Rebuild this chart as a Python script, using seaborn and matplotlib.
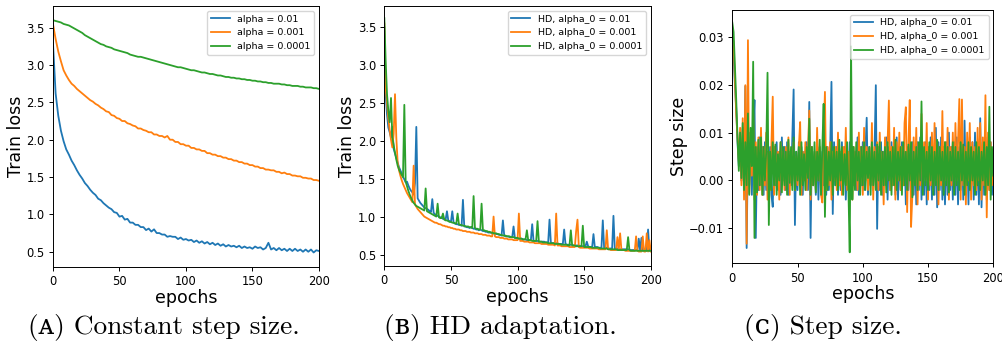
import numpy as np
import matplotlib
matplotlib.use("Agg")
import matplotlib.pyplot as plt
import seaborn as sns

# ---------------- data ----------------
# Panel A: constant step size, train loss sampled every 2 epochs
a_blue = [3.30, 2.62, 2.32, 2.12, 1.98, 1.87, 1.80, 1.72, 1.66, 1.59,
          1.53, 1.48, 1.42, 1.38, 1.33, 1.29, 1.26, 1.21, 1.19, 1.15,
          1.12, 1.09, 1.07, 1.03, 1.02, 0.97, 0.98, 0.93, 0.94, 0.89,
          0.89, 0.86, 0.86, 0.83, 0.83, 0.79, 0.81, 0.77, 0.80, 0.75,
          0.75, 0.73, 0.73, 0.70, 0.71, 0.70, 0.70, 0.67, 0.69, 0.66,
          0.67, 0.65, 0.66, 0.63, 0.65, 0.62, 0.64, 0.61, 0.63, 0.60,
          0.62, 0.59, 0.61, 0.58, 0.60, 0.57, 0.59, 0.57, 0.58, 0.56,
          0.58, 0.55, 0.57, 0.55, 0.56, 0.54, 0.57, 0.55, 0.56, 0.53,
          0.55, 0.62, 0.53, 0.55, 0.52, 0.55, 0.52, 0.54, 0.51, 0.54,
          0.51, 0.54, 0.51, 0.53, 0.50, 0.53, 0.50, 0.53, 0.49, 0.52,
          0.51]
a_orange = [3.55, 3.35, 3.18, 3.05, 2.93, 2.86, 2.80, 2.75, 2.72, 2.68,
            2.65, 2.62, 2.59, 2.56, 2.53, 2.51, 2.48, 2.46, 2.43, 2.41,
            2.38, 2.37, 2.33, 2.32, 2.29, 2.28, 2.25, 2.25, 2.22, 2.21,
            2.19, 2.18, 2.15, 2.15, 2.13, 2.12, 2.10, 2.10, 2.07, 2.07,
            2.05, 2.05, 2.03, 2.05, 2.00, 2.00, 1.97, 1.97, 1.94, 1.94,
            1.92, 1.92, 1.89, 1.89, 1.87, 1.87, 1.85, 1.85, 1.82, 1.82,
            1.80, 1.80, 1.78, 1.78, 1.76, 1.76, 1.74, 1.74, 1.72, 1.72,
            1.70, 1.70, 1.68, 1.68, 1.66, 1.66, 1.64, 1.64, 1.62, 1.62,
            1.60, 1.60, 1.59, 1.59, 1.57, 1.57, 1.55, 1.56, 1.54, 1.54,
            1.52, 1.52, 1.51, 1.51, 1.49, 1.49, 1.48, 1.48, 1.46, 1.46,
            1.45]
a_green = [3.60, 3.59, 3.58, 3.57, 3.55, 3.54, 3.53, 3.51, 3.49, 3.47,
           3.45, 3.43, 3.40, 3.38, 3.36, 3.34, 3.32, 3.30, 3.28, 3.27,
           3.25, 3.24, 3.23, 3.21, 3.20, 3.19, 3.18, 3.17, 3.16, 3.14,
           3.13, 3.12, 3.11, 3.11, 3.10, 3.09, 3.08, 3.07, 3.06, 3.05,
           3.04, 3.03, 3.02, 3.01, 3.00, 2.99, 2.98, 2.97, 2.97, 2.96,
           2.95, 2.94, 2.93, 2.93, 2.92, 2.91, 2.90, 2.90, 2.89, 2.88,
           2.88, 2.87, 2.86, 2.86, 2.85, 2.84, 2.84, 2.83, 2.83, 2.82,
           2.82, 2.81, 2.81, 2.80, 2.80, 2.79, 2.79, 2.78, 2.78, 2.77,
           2.77, 2.76, 2.76, 2.75, 2.75, 2.75, 2.74, 2.74, 2.73, 2.73,
           2.72, 2.72, 2.72, 2.71, 2.71, 2.70, 2.70, 2.70, 2.69, 2.69,
           2.68]
a_labels = ["alpha = 0.01", "alpha = 0.001", "alpha = 0.0001"]

# Panel B: HD adaptation, train loss per epoch
b_blue = [3.50, 2.62, 2.35, 2.18, 2.12, 2.05, 2.19, 1.90, 1.84, 1.78,
          1.72, 1.66, 1.62, 1.58, 1.53, 1.50, 1.46, 1.47, 1.42, 1.38,
          1.35, 1.33, 1.30, 1.45, 2.19, 1.25, 1.22, 1.19, 1.17, 1.15,
          1.13, 1.12, 1.11, 1.10, 1.08, 1.07, 1.24, 1.06, 1.04, 1.03,
          1.02, 1.01, 1.00, 1.00, 0.98, 0.98, 0.97, 1.08, 0.96, 0.95,
          0.94, 1.08, 0.93, 0.92, 0.91, 0.91, 0.90, 0.90, 0.89, 1.23,
          0.88, 0.88, 0.87, 0.87, 0.86, 0.87, 0.86, 0.85, 0.85, 0.84,
          0.84, 0.83, 0.84, 0.83, 0.82, 0.82, 0.81, 0.81, 0.80, 0.80,
          0.80, 0.79, 0.79, 0.78, 0.78, 0.78, 0.77, 0.77, 0.76, 0.96,
          0.76, 0.75, 0.75, 0.75, 0.74, 0.74, 0.74, 0.88, 0.73, 0.73,
          0.72, 0.72, 0.72, 0.72, 0.71, 0.71, 0.71, 0.70, 0.70, 0.70,
          0.70, 0.91, 0.69, 0.69, 0.69, 0.69, 0.68, 0.68, 0.68, 0.68,
          0.68, 0.67, 0.67, 0.67, 0.97, 0.67, 0.66, 0.66, 0.66, 0.66,
          0.66, 0.65, 0.65, 0.65, 0.65, 0.84, 0.65, 0.64, 0.64, 0.64,
          0.64, 0.64, 0.63, 0.63, 0.63, 0.63, 0.63, 0.62, 0.62, 0.62,
          0.62, 0.62, 0.68, 0.62, 0.61, 0.61, 0.61, 0.78, 0.61, 0.61,
          0.61, 0.60, 0.60, 0.60, 0.96, 0.60, 0.60, 0.60, 0.59, 0.59,
          0.59, 0.59, 1.02, 0.59, 0.59, 0.59, 0.58, 0.58, 0.58, 0.58,
          0.58, 0.58, 0.58, 0.58, 0.57, 0.57, 0.57, 0.57, 0.57, 0.57,
          0.57, 0.72, 0.57, 0.73, 0.56, 0.56, 0.56, 0.56, 0.84, 0.56,
          0.57]
b_orange = [3.55, 2.70, 2.50, 2.30, 2.15, 2.02, 1.92, 2.10, 2.62, 2.04,
            1.72, 1.62, 1.55, 1.49, 1.44, 1.40, 1.36, 1.32, 1.29, 1.26,
            1.23, 1.20, 1.68, 1.17, 1.14, 1.11, 1.09, 1.07, 1.05, 1.03,
            1.01, 1.00, 0.99, 0.98, 0.97, 0.96, 0.95, 0.94, 0.93, 0.93,
            0.92, 0.91, 0.91, 0.90, 0.89, 0.89, 0.88, 0.88, 0.87, 0.87,
            0.86, 0.86, 0.85, 0.85, 0.84, 0.84, 0.84, 0.83, 0.83, 0.82,
            0.82, 0.82, 0.81, 0.81, 0.81, 0.80, 0.80, 0.80, 0.79, 0.79,
            0.79, 0.78, 0.78, 0.78, 0.77, 0.77, 0.77, 0.76, 0.76, 0.76,
            0.75, 0.75, 1.01, 0.75, 0.74, 0.74, 0.74, 0.73, 0.73, 0.73,
            0.72, 0.72, 0.72, 0.71, 0.71, 0.71, 0.71, 0.70, 0.70, 0.70,
            0.70, 1.05, 0.69, 0.69, 0.69, 0.68, 0.68, 0.68, 0.68, 0.67,
            0.67, 0.67, 0.67, 0.66, 0.66, 0.66, 0.66, 0.66, 0.65, 0.65,
            0.65, 0.65, 0.65, 0.64, 0.64, 0.64, 0.64, 0.64, 0.63, 1.05,
            0.63, 0.63, 0.63, 0.62, 0.62, 0.62, 0.62, 0.62, 0.62, 0.61,
            0.61, 0.61, 0.61, 0.61, 0.82, 0.97, 0.61, 0.60, 0.60, 0.60,
            0.60, 0.60, 0.60, 0.60, 0.59, 0.59, 0.59, 0.59, 0.59, 0.59,
            0.59, 0.58, 0.58, 0.58, 0.58, 0.58, 0.58, 0.83, 0.58, 0.58,
            0.57, 0.57, 0.57, 0.57, 0.57, 0.74, 0.57, 0.79, 0.57, 0.57,
            0.57, 0.56, 0.56, 0.56, 0.56, 0.56, 0.56, 0.56, 0.56, 0.75,
            0.56, 0.55, 0.55, 0.55, 0.75, 0.55, 0.55, 0.79, 0.55, 0.70,
            0.55]
b_green = [3.62, 3.05, 2.62, 2.40, 2.25, 2.57, 2.05, 1.95, 1.85, 1.76,
           1.68, 1.63, 1.59, 1.56, 1.53, 2.48, 1.47, 1.41, 1.35, 1.30,
           1.26, 1.22, 1.19, 1.17, 1.15, 1.14, 1.13, 1.12, 1.11, 1.10,
           1.09, 1.38, 1.08, 1.07, 1.06, 1.05, 1.04, 1.03, 1.02, 1.01,
           1.18, 1.00, 0.99, 0.99, 1.05, 0.97, 0.96, 0.96, 0.95, 0.94,
           0.94, 0.93, 0.93, 0.92, 0.92, 1.05, 0.91, 0.90, 0.90, 0.89,
           0.89, 0.88, 0.88, 0.88, 0.87, 0.87, 0.86, 1.28, 0.86, 0.85,
           0.85, 0.84, 0.84, 1.18, 0.83, 0.83, 0.82, 0.82, 0.81, 0.81,
           0.80, 0.80, 0.79, 0.79, 0.79, 0.78, 0.78, 0.77, 0.77, 0.76,
           0.76, 0.76, 0.75, 0.75, 0.75, 0.74, 0.74, 0.74, 0.73, 0.73,
           0.73, 0.72, 0.72, 0.72, 0.71, 0.71, 0.71, 0.83, 0.70, 0.70,
           0.70, 0.69, 0.69, 0.69, 0.69, 0.95, 0.68, 0.68, 0.68, 0.67,
           0.67, 0.67, 0.67, 0.66, 0.66, 0.66, 0.66, 0.66, 0.65, 0.65,
           0.65, 0.65, 0.65, 0.64, 0.64, 0.64, 0.64, 0.64, 0.63, 0.63,
           0.83, 0.63, 0.63, 0.63, 0.62, 0.62, 0.62, 0.62, 0.62, 0.89,
           0.61, 0.61, 0.61, 0.61, 0.61, 0.61, 0.60, 0.60, 0.60, 0.60,
           0.60, 0.60, 0.59, 0.59, 0.59, 0.59, 0.59, 0.59, 0.58, 0.58,
           0.58, 0.58, 0.58, 0.58, 0.58, 0.57, 0.57, 0.57, 0.57, 0.57,
           0.57, 0.57, 0.57, 0.74, 0.57, 0.56, 0.56, 0.56, 0.56, 0.56,
           0.56, 0.56, 0.56, 0.56, 0.56, 0.56, 0.56, 0.56, 0.56, 0.56,
           0.56]
b_labels = ["HD, alpha_0 = 0.01", "HD, alpha_0 = 0.001", "HD, alpha_0 = 0.0001"]

# Panel C: step size per epoch, in units of 1e-3
c_blue_milli = [28, 26, 20, 15, 8, 3, 9, 0, 11, -2,
                19.7, -14.1, 8, -1, 10, -3, 9, 16.8, -12, 7,
                -2, 9, -1, 7, -3, 8, -2, 6, 0, 7,
                -3, -5.5, 7, -1, 8, -2, 6, -3, 9, 0,
                7, -2, 8, -3, 6, -1, 9, 19.0, -9.3, 6,
                -2, 8, -1, 7, -3, 6, 0, 8, -2, 16.4,
                -12, 7, -1, 6, -3, 8, -4, 7, -2, 6,
                -1, 8, -3, 7, -2, 6, 20.6, -7, 8, -1,
                7, -3, 6, -2, 8, -1, 7, -4, 6, -2,
                8, -3, 7, -1, 6, -2, 9, -3, 7, -1,
                8, -2, 6, 13.1, -3, 7, -1, 8, -2, 6,
                19.9, -10.1, 7, -2, 8, -3, 6, -1, 9, -4,
                7, -2, 8, -1, 6, -3, 9, -4, 7, -2,
                8, -1, 6, -5, 7, -2, 9, -4, 8, -3,
                7, -5, 8, -2, 9, -4, 6, -3, 8, -5,
                7, -2, 9, -4, 6, -3, 11, -5.6, 8, -2,
                9, -4, 7, -5, 8, -3, 10, -2, 7, -4,
                8, -3, 9, -5, 7, -2, 8, -4, 12.5, -3,
                7, -5, 9, -2, 8, -4, 10, -3, 7, -5,
                13, -5.6, 8, -3, 9, -4, 7, -2, 8, -3,
                5]
c_orange_milli = [30, 29, 21, 14, 9, 4, 11, -1, 13, -4,
                  19.9, -13.2, 29.3, -2.7, 10, 1, 14, -4, 8, -3,
                  9, -2, 11, -3, 7, -1, 10, -4, 6, -2,
                  8, 17.5, -3, 7, -1, 6, -4, 8, 0, 6,
                  -2, 7, -1, 9, -3, 6, 0, 8, -2, 5,
                  -1, 7, 12.2, -3, 6, 0, 8, -2, 6, 14.6,
                  -4, 7, -1, 6, -2, 11, 0, 7, -3, -4.6,
                  9, 18.5, -2, 7, -1, 8, -4, 6, 0, 7,
                  -2, 10, -1, 6, -3, 7, 0, 11, -2, 6,
                  -1, 9, -4, 7, 0, 6, -2, 10, -1, 7,
                  -3, 11, 0, 7, -2, 6, -1, 12, -4, 7,
                  0, 8, -2, 10, -1, 6, -5, 9, 0, 8,
                  16.7, -2, 7, -1, 11, -4, 8, 0, 10, -2,
                  7, -1, 12, 15.3, -6.6, 8, 16.8, -9.7, -3, 9,
                  0, 11, -5, 7, -1, 13.9, -2, 8, 0, 12,
                  -4, 7, -1, 10, -2, 12, 0, 8, -5, 7,
                  -1, 14.5, -2, 8, 0, 11, -4, 7, -1, 10,
                  -2, 12, 0, 8, 17, -4, 16.9, -1, 7, -5,
                  10, 0, 12, -4, 8, -1, 7, -2, 11, 0,
                  12, -4, 9, -1, 17.8, -7.7, 10, -2, 8, -1,
                  6]
c_green_milli = [33, 31, 24, 17, 9, 2, 10, 0.5, 12, -2,
                 8, -1, 14, -3, 11, 3, 24.8, -12, 7, -2.5,
                 8.5, -1, 9, -3, 7, 0, 6, 22.5, -9.3, 6,
                 -2, 8, -1, 7.5, -3, 5.5, 0, 8, -2.5, 7,
                 -1, 6, -3, 8.5, -0.5, 7, -2, 9, -2, 6,
                 0, 7, -3, 8, -1, 5.5, -2, 7, 0.5, 12.9,
                 -3, 7, -1, 8, -2.5, 6, 0, 8.5, -3, 7,
                 16, -7.6, 7, -2, 6, 0, 8, -3, 7, -1,
                 6, -2, 8.5, 0, 7, -3, 5.5, -1, 8, -2,
                 -15, 28, -4, 7, -2, 8, 0, 6, -3, 7,
                 -1, 8, -2, 6, 0.5, 7, -3, 8, -1, 6,
                 -2, 7.5, 0, 8, -3, 6, -1, 7, -2.5, 8,
                 0, 6, -3, 7, -1, 8.5, -2, 6, 0, 7,
                 -3, 8, -1, 6, -2, 7.5, 0, 8, -3.5, 6,
                 -1, 7, -2, 8, 0, 16.5, -3, 7, -1, 6,
                 -2, 8, 0, 7, -3, 6, -1, 8.5, -2, 7,
                 0, 6, -3, 8, -1, 7, -2.5, 6, 0, 8,
                 -3, 7, -1, 6, -2, 8, 0, 7.5, -3, 6,
                 -1, 8, -2, 7, 0, 6, -3, 8, -1, 7,
                 -2, 6, 0, 8, -3, 7, -1, 15.4, -4, 7,
                 1]
c_labels = b_labels

captions = ["(\u1d00) Constant step size.", "(\u0299) HD adaptation.", "(\u1d04) Step size."]
colors = ["#1f77b4", "#ff7f0e", "#2ca02c"]

# ---------------- plot ----------------
plt.rcParams["font.family"] = ["DejaVu Sans"]
plt.rcParams["axes.linewidth"] = 0.7
fig = plt.figure(figsize=(10.03, 3.52), dpi=100)

ax_a = fig.add_axes([0.0528, 0.2424, 0.2652, 0.7405])
ax_b = fig.add_axes([0.3832, 0.2443, 0.2656, 0.7386])
ax_c = fig.add_axes([0.7301, 0.2519, 0.2602, 0.7197])


def epochs_for(vals):
    return np.arange(len(vals)) * 200.0 / (len(vals) - 1)


def draw(ax, series, labels, lw):
    for vals, lab, col in zip(series, labels, colors):
        sns.lineplot(x=epochs_for(vals), y=np.asarray(vals), ax=ax, color=col,
                     label=lab, linewidth=lw, estimator=None, sort=False)
    ax.legend(loc="upper right", fontsize=6.8)
    ax.set_xlim(0, 200)
    ax.set_xticks([0, 50, 100, 150, 200])
    ax.set_xlabel("epochs", fontsize=12.5, labelpad=0.5)
    ax.tick_params(labelsize=8.3, length=3.0, width=0.7, pad=3.0)


draw(ax_a, [a_blue, a_orange, a_green], a_labels, 1.3)
ax_a.set_ylim(0.30, 3.79)
ax_a.set_ylabel("Train loss", fontsize=12.5, labelpad=1)

draw(ax_b, [b_blue, b_orange, b_green], b_labels, 1.3)
ax_b.set_ylim(0.36, 3.78)
ax_b.set_ylabel("Train loss", fontsize=12.5, labelpad=1)

c_series = [np.asarray(v) * 1e-3 for v in (c_blue_milli, c_orange_milli, c_green_milli)]
draw(ax_c, c_series, c_labels, 1.3)
ax_c.set_ylim(-0.0173, 0.0356)
ax_c.set_yticks([-0.01, 0.0, 0.01, 0.02, 0.03])
ax_c.set_ylabel("Step size", fontsize=12.5, labelpad=1)

cap_x = [0.1635, 0.4985, 0.82]
for cx, cap in zip(cap_x, captions):
    fig.text(cx, 0.071, cap, ha="center", va="center", fontsize=19.7,
             family=["cmr10", "DejaVu Serif"])

fig.savefig("out.png", dpi=100)
